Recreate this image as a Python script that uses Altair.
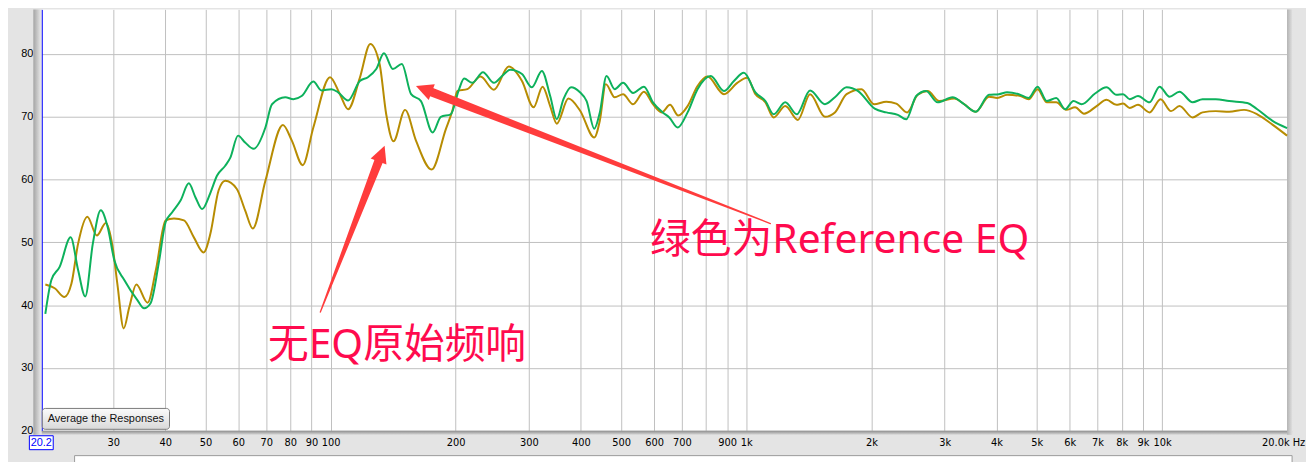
"""REW style frequency response: raw response vs. Reference EQ, with notes."""

import altair as alt
import pandas as pd

# ---------------------------------------------------------------------------
# Data
# ---------------------------------------------------------------------------

# green trace: response with Reference EQ
EQ_HZ = [20.6, 21.3, 22.3, 23.7, 24.7, 25.7, 26.8, 28.0, 29.1, 30.2,
         31.9, 34.3, 35.6, 36.9, 38.7, 40.1, 41.6, 43.6, 45.6, 47.3,
         49.1, 51.4, 53.3, 55.8, 57.4, 59.9, 62.3, 65.3, 69.7, 72.3,
         77.8, 81.4, 85.2, 90.9, 95.1, 100.5, 104.3, 110.2, 117.6, 123.0,
         128.8, 134.4, 141.2, 148.4, 156.2, 165.0, 176.0, 184.2, 194.6, 203.8,
         209.5, 219.3, 232.6, 247.1, 258.6, 270.7, 288.7, 305.0, 322.3, 337.5,
         350.1, 363.3, 378.8, 398.1, 413.0, 430.9, 444.4, 461.1, 482.6, 505.3,
         534.0, 567.4, 596.3, 629.6, 652.9, 683.9, 722.5, 763.4, 821.4, 883.9,
         933.9, 986.7, 1052, 1112, 1164, 1241, 1323, 1424, 1546, 1634,
         1743, 1858, 2037, 2172, 2315, 2425, 2563, 2707, 2886, 3134,
         3343, 3565, 3836, 4053, 4242, 4524, 4779, 5021, 5286, 5567,
         5850, 6124, 6408, 6902, 7355, 7771, 8062, 8366, 8756, 9339,
         9867, 10425, 11015, 11850, 12520, 13470, 14506, 16040, 16950, 18405,
         19996]
EQ_DB = [38.6, 44.0, 46.1, 50.8, 45.6, 41.4, 49.8, 55.1, 52.4, 47.1,
         44.0, 40.8, 39.5, 40.3, 47.1, 53.2, 54.8, 56.7, 59.4, 57.2,
         55.3, 57.9, 60.6, 62.2, 63.5, 67.0, 65.9, 64.9, 68.3, 72.0,
         73.1, 72.8, 73.3, 75.6, 74.2, 74.4, 73.9, 72.6, 75.7, 76.3,
         77.6, 80.1, 77.6, 78.4, 73.6, 72.5, 67.5, 70.0, 70.4, 74.4,
         76.1, 75.4, 77.1, 75.4, 76.5, 77.5, 76.8, 74.7, 77.3, 73.3,
         69.6, 72.8, 74.7, 73.9, 72.5, 68.1, 70.7, 76.5, 74.4, 75.4,
         73.8, 74.8, 72.3, 70.7, 69.9, 68.3, 70.7, 74.4, 76.5, 74.1,
         75.7, 77.0, 73.9, 72.5, 70.4, 72.3, 70.4, 74.2, 72.0, 73.1,
         74.7, 74.1, 71.3, 70.7, 70.3, 69.6, 73.3, 74.1, 72.3, 73.1,
         72.0, 70.8, 73.5, 73.6, 73.9, 73.6, 73.0, 74.8, 72.5, 73.0,
         71.2, 72.5, 72.0, 73.7, 74.7, 73.5, 73.6, 72.8, 73.3, 72.3,
         74.8, 73.2, 74.0, 72.3, 72.8, 72.8, 72.5, 72.2, 71.2, 69.4,
         68.2]

# olive trace: raw response, no EQ
RAW_HZ = [20.6, 21.7, 22.9, 23.8, 24.7, 26.0, 27.4, 28.8, 29.9, 30.7,
          31.8, 32.8, 34.1, 36.3, 38.0, 40.1, 42.0, 44.4, 46.9, 49.5,
          51.4, 53.8, 55.8, 59.5, 62.3, 65.0, 69.7, 76.8, 80.7, 85.7,
          90.9, 99.7, 105.3, 110.2, 117.6, 124.6, 131.2, 136.1, 141.7, 151.1,
          160.5, 175.0, 189.3, 196.4, 201.9, 213.3, 229.5, 247.1, 268.3, 288.7,
          307.9, 323.6, 337.5, 350.1, 373.4, 398.1, 430.9, 444.4, 459.3, 482.6,
          505.3, 534.0, 567.4, 596.3, 626.1, 655.5, 686.1, 722.5, 763.4, 806.6,
          883.9, 951.5, 1005, 1052, 1112, 1164, 1241, 1331, 1424, 1546,
          1634, 1743, 1893, 2030, 2172, 2295, 2438, 2585, 2731, 2912,
          3163, 3343, 3565, 3836, 4016, 4242, 4566, 4779, 5021, 5286,
          5567, 5882, 6181, 6493, 6962, 7355, 7771, 8062, 8366, 8756,
          9339, 9921, 10517, 11015, 11850, 12520, 13470, 14506, 15752, 16950,
          18405, 19996]
RAW_DB = [43.3, 42.7, 41.3, 43.4, 49.8, 54.1, 51.1, 53.1, 49.3, 43.4,
          36.3, 39.7, 43.3, 40.4, 45.6, 53.5, 53.8, 53.5, 50.8, 48.4,
          51.4, 58.3, 59.8, 58.5, 55.1, 52.2, 59.8, 68.7, 66.2, 62.3,
          68.3, 76.3, 73.6, 71.2, 76.2, 81.6, 78.4, 70.4, 66.1, 71.1,
          66.2, 61.6, 68.0, 71.0, 74.1, 74.4, 76.4, 74.3, 78.0, 75.7,
          71.5, 74.8, 71.7, 68.9, 72.9, 71.0, 66.7, 69.4, 75.2, 73.1,
          73.6, 72.0, 74.0, 72.0, 70.7, 71.9, 70.2, 71.7, 74.9, 76.4,
          73.6, 75.4, 76.2, 73.6, 72.3, 69.9, 71.7, 69.5, 73.6, 70.0,
          70.7, 73.6, 74.4, 72.0, 72.4, 72.1, 70.7, 73.5, 74.1, 72.5,
          72.9, 72.0, 70.8, 73.2, 73.0, 73.5, 73.3, 72.8, 74.4, 72.3,
          72.3, 71.1, 71.5, 70.5, 71.7, 72.7, 71.9, 72.1, 71.4, 71.9,
          70.7, 72.8, 70.9, 71.7, 69.9, 70.7, 70.9, 70.8, 71.1, 70.4,
          68.8, 67.0]

X_TICKS = [30, 40, 50, 60, 70, 80, 90, 100, 200, 300, 400, 500, 600, 700, 800,
           900, 1000, 2000, 3000, 4000, 5000, 6000, 7000, 8000, 9000, 10000, 20000]
X_TICK_LABELS = ["30", "40", "50", "60", "70", "80", "90", "100", "200", "300",
                 "400", "500", "600", "700", "", "900", "1k", "2k", "3k", "4k",
                 "5k", "6k", "7k", "8k", "9k", "10k", "20.0k Hz"]
Y_TICKS = [20, 30, 40, 50, 60, 70, 80]
X_DOMAIN = [20.2, 20000]
Y_DOMAIN = [20, 87.1]

NOTE_TEXT = ["绿色为Reference EQ", "无EQ原始频响"]
NOTE_HZ = [587, 70.7]
NOTE_DB = [48.3, 31.6]

# arrows: tail -> end of shaft, then the tip
ARROW_ID = ["eq", "eq", "raw", "raw"]
ARROW_HZ = [1143, 170.7, 94.5, 131.7]
ARROW_DB = [53.0, 74.2, 38.9, 63.6]
TIP_HZ = [160.5, 134.9]
TIP_DB = [74.9, 65.4]

# ---------------------------------------------------------------------------
# Styling
# ---------------------------------------------------------------------------

W, H = 1253, 424
GREEN = "#0db15c"
OLIVE = "#b78c02"
RED = "#ff3c3c"
PINK = "#ff0a4e"
GRID = "#c0c0c0"
FONT = "Liberation Sans"
NARROW = "Liberation Sans Narrow, DejaVu Sans Condensed, Liberation Sans"
SHAFT_WIDTH = {"tail": 1.3, "head": 9}
HEAD_ANGLE = [291, 21]
HEAD_SHAPE = "M0,0L-0.5,1L0.5,1Z"

x_scale = alt.Scale(type="log", domain=X_DOMAIN, nice=False)
y_scale = alt.Scale(domain=Y_DOMAIN, nice=False, zero=False)

x_axis = alt.Axis(
    values=X_TICKS,
    labelExpr=f"{X_TICK_LABELS}[indexof({X_TICKS}, datum.value)]",
    title=None,
    grid=True,
    gridColor=GRID,
    gridWidth=1,
    ticks=False,
    tickSize=0,
    domain=False,
    labelFont=NARROW,
    labelFontSize=11,
    labelColor="#000000",
    labelBaseline="middle",
    labelPadding=12,
    labelOffset={"expr": "datum.value >= 20000 ? -4 : 0"},
    labelOverlap=False,
    labelFlush=False,
    labelBound=False,
)
y_axis = alt.Axis(
    values=Y_TICKS,
    title=None,
    grid=True,
    gridColor=GRID,
    gridWidth=1,
    ticks=False,
    tickSize=0,
    domainColor="#0000ff",
    domainWidth=1,
    labelFont=FONT,
    labelFontSize=11,
    labelColor="#000000",
    labelPadding=9,
    labelFlush=False,
)


def xy():
    return {
        "x": alt.X("hz:Q", scale=x_scale, axis=x_axis),
        "y": alt.Y("db:Q", scale=y_scale, axis=y_axis),
    }


def gradient(stops, horizontal=True):
    return alt.LinearGradient(
        gradient="linear",
        stops=[alt.GradientStop(color=c, offset=o) for o, c in stops],
        x1=0,
        x2=1 if horizontal else 0,
        y1=0,
        y2=0 if horizontal else 1,
    )


one_row = pd.DataFrame({"k": [0]})

# ---------------------------------------------------------------------------
# Layers
# ---------------------------------------------------------------------------

# window chrome around the plot area
left_shadow = alt.Chart(one_row).mark_rect(
    fill=gradient([(0, "#a4a4a4"), (0.7, "#cfcfcf"), (1, "#e2e2e2")])
).encode(x=alt.value(-8.5), x2=alt.value(-1.5), y=alt.value(0), y2=alt.value(H + 4))

bottom_shadow = alt.Chart(one_row).mark_rect(
    fill=gradient([(0, "#8e8e8e"), (1, "#d8d8d8")], horizontal=False)
).encode(x=alt.value(0), x2=alt.value(W + 5), y=alt.value(H), y2=alt.value(H + 4))

right_shadow = alt.Chart(one_row).mark_rect(
    fill=gradient([(0, "#b4b4b4"), (1, "#dedede")])
).encode(x=alt.value(W), x2=alt.value(W + 5), y=alt.value(0), y2=alt.value(H + 4))

bottom_panel = alt.Chart(one_row).mark_rect(
    fill="#ffffff", stroke="#9a9a9a", strokeWidth=1
).encode(x=alt.value(33), x2=alt.value(W + 5), y=alt.value(H + 25), y2=alt.value(H + 40))

raw_line = alt.Chart(pd.DataFrame({"hz": RAW_HZ, "db": RAW_DB})).mark_line(
    color=OLIVE, strokeWidth=2, interpolate="monotone"
).encode(**xy())

eq_line = alt.Chart(pd.DataFrame({"hz": EQ_HZ, "db": EQ_DB})).mark_line(
    color=GREEN, strokeWidth=2, interpolate="monotone"
).encode(**xy())

shaft_df = pd.DataFrame({
    "arrow": ARROW_ID,
    "hz": ARROW_HZ,
    "db": ARROW_DB,
    "w": [SHAFT_WIDTH["tail"], SHAFT_WIDTH["head"]] * 2,
})
shafts = alt.Chart(shaft_df).mark_trail(color=RED).encode(
    **xy(),
    size=alt.Size("w:Q", scale=None, legend=None),
    detail="arrow:N",
)

heads = alt.Chart(
    pd.DataFrame({"hz": TIP_HZ, "db": TIP_DB, "angle": HEAD_ANGLE})
).mark_point(
    shape=HEAD_SHAPE, filled=True, size=1156, color=RED, opacity=1, strokeWidth=0
).encode(**xy(), angle=alt.Angle("angle:Q", scale=None))

notes = alt.Chart(
    pd.DataFrame({"hz": NOTE_HZ, "db": NOTE_DB, "note": NOTE_TEXT})
).mark_text(
    align="left",
    baseline="alphabetic",
    font="Noto Sans, Noto Sans CJK SC",
    fontSize=41,
    color=PINK,
).encode(**xy(), text="note:N")

button = alt.Chart(one_row).mark_rect(
    cornerRadius=3,
    fill=gradient([(0, "#fbfbfb"), (1, "#d9d9d9")], horizontal=False),
    stroke="#7a7a7a",
    strokeWidth=1,
).encode(x=alt.value(0.5), x2=alt.value(128.5), y=alt.value(401.5), y2=alt.value(422.5))

button_label = alt.Chart(one_row).mark_text(
    text="Average the Responses", font=FONT, fontSize=11, color="#111111"
).encode(x=alt.value(64.5), y=alt.value(412.5))

start_box = alt.Chart(one_row).mark_rect(
    fill="#ffffff", stroke="#0000ff", strokeWidth=1
).encode(x=alt.value(-12.5), x2=alt.value(11.5), y=alt.value(H + 5), y2=alt.value(H + 19))

start_label = alt.Chart(one_row).mark_text(
    text="20.2", font=FONT, fontSize=11, color="#0000ff"
).encode(x=alt.value(-0.5), y=alt.value(H + 12))

chart = (
    alt.layer(
        left_shadow, bottom_shadow, right_shadow, bottom_panel,
        raw_line, eq_line, shafts, heads, notes,
        button, button_label, start_box, start_label,
    )
    .properties(
        width=W,
        height=H,
        autosize=alt.AutoSizeParams(type="none"),
        padding={"left": 34, "top": 0, "right": 19, "bottom": 30},
        background="#e4e4e4",
    )
    .configure_view(strokeWidth=0, fill="#ffffff")
)

chart.save("out.html", embed_options={"renderer": "svg", "actions": False})
